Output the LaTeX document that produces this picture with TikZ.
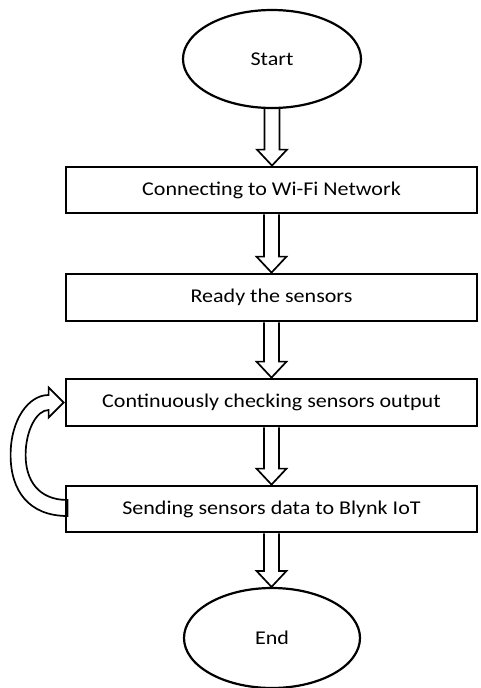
\documentclass[tikz,border=0pt]{standalone}
\usepackage{fontspec}
\setmainfont{Carlito}
\newfontfamily\labelface[FakeStretch=1.13]{Carlito}
\usetikzlibrary{calc,shapes.geometric}

\begin{document}
\begin{tikzpicture}[x=1pt,y=-1pt,
  labelfont/.style={font=\labelface\fontsize{19.5}{23}\selectfont},
  term/.style={ellipse, draw, line width=2.2pt, minimum width=178pt,
    minimum height=98pt, inner sep=0pt, labelfont},
  procbox/.style={rectangle, draw, line width=2.8pt, minimum width=411pt,
    minimum height=46pt, inner sep=0pt, labelfont},
  % hollow block arrow running straight down from the source to the target
  blockarrow/.style={line width=1.7pt, line join=miter,
    to path={let \p1=(\tikztostart), \p2=(\tikztotarget) in
      (\x1-7.5pt,\y1) -- (\x1-7.5pt,\y2+16pt) -- (\x1-15pt,\y2+16pt)
      -- (\x1,\y2) -- (\x1+15pt,\y2+16pt) -- (\x1+7.5pt,\y2+16pt)
      -- (\x1+7.5pt,\y1)}},
  looparrow/.style={line width=1.7pt, line join=miter}
]
\useasboundingbox (0,0) rectangle (480,688);

% nodes
\node[term] (start) at (272,59) {Start};
\node[procbox] (wifi) at (271.5,190) {Connecting to Wi-Fi Network};
\node[procbox, minimum height=47pt] (ready) at (271.5,297.5) {Ready the sensors};
\node[procbox, minimum height=47pt] (check) at (271.5,402.5) {Continuously checking sensors output};
\node[procbox] (send) at (271.5,509) {Sending sensors data to Blynk IoT};
\node[term, minimum width=176pt, minimum height=100pt] (stop) at (272,638) {End};

% straight flow arrows
\draw[blockarrow] (start.south) to (wifi.north);
\draw[blockarrow] (wifi.south) to (ready.north);
\draw[blockarrow] (ready.south) to (check.north);
\draw[blockarrow] (check.south) to (send.north);
\draw[blockarrow] (send.south) to (stop.north);

% curved loop arrow from the sending step back to the checking step
\begin{scope}[shift={(check.west)}]
  \draw[looparrow]
    (3,113.5) .. controls (-36,113.5) and (-54,88) .. (-54,52.5)
    .. controls (-54,17) and (-36,-7.5) .. (-16,-7.5)
    -- (-16,-15) -- (-1,0) -- (-16,15) -- (-16,7.5)
    .. controls (-28,7.5) and (-39,28) .. (-39,52.5)
    .. controls (-39,78) and (-26,97.5) .. (3,97.5) -- cycle;
\end{scope}
\end{tikzpicture}
\end{document}
